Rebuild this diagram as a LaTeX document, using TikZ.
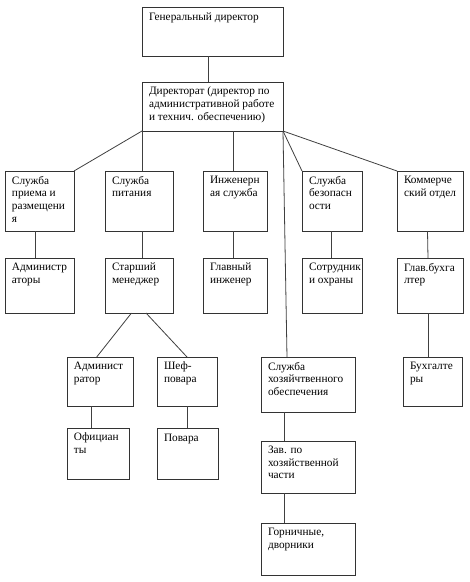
\documentclass[tikz,border=0pt]{standalone}
\usepackage{fontspec}
\setmainfont{Liberation Serif}
\tikzset{
  box/.style={draw=black!80, line width=0.8pt, anchor=north west, inner sep=0pt, outer sep=0pt},
  lbl/.style={anchor=north west, inner sep=0pt, outer sep=0pt, align=left,
    font=\fontsize{11.3}{12.65}\selectfont, execute at begin node=\strut},
  link/.style={draw=black!75, line width=0.8pt}
}
\newcommand\obox[6]{%
  \node[box, minimum width=#4pt, minimum height=#5pt] (#1) at (#2,#3) {};
  \node[lbl] (#1-t) at ([xshift=7pt,yshift=-5.1pt]#1.north west) {#6};}
\begin{document}
\begin{tikzpicture}[x=1pt,y=-1pt]
\useasboundingbox[fill=white] (0,0) rectangle (470,582);
\obox{gd}{142}{7}{141}{49}{Генеральный директор}
\obox{dir}{142}{82}{141}{49}{Директорат (директор по\\административной работе\\и технич. обеспечению)}
\obox{priem}{5}{171}{69}{60}{Служба\\приема и\\размещени\\я}
\obox{pit}{105}{171}{68}{60}{Служба\\питания}
\obox{ing}{203}{171}{64}{60}{Инженерн\\ая служба}
\obox{bez}{302}{171}{60}{60}{Служба\\безопасн\\ости}
\obox{kom}{397}{171}{66}{60}{Коммерче\\ский отдел}
\obox{adm}{5}{258}{69}{55}{Администр\\аторы}
\obox{star}{105}{258}{68}{55}{Старший\\менеджер}
\obox{glav}{203}{258}{64}{55}{Главный\\инженер}
\obox{sotr}{302}{258}{60}{55}{Сотрудник\\и охраны}
\obox{gbuh}{397}{258}{66}{55}{Глав.бухга\\лтер}
\obox{admr}{67}{357}{66}{49}{Админист\\ратор}
\obox{shef}{157}{357}{60}{49}{Шеф-\\повара}
\obox{hoz}{261}{357}{94}{55}{Служба\\хозяйчтвенного\\обеспечения}
\obox{buh}{403}{357}{59}{49}{Бухгалте\\ры}
\obox{ofic}{67}{428}{62}{51}{Официан\\ты}
\obox{povar}{157}{428}{61}{51}{Повара}
\obox{zav}{261}{441}{94}{52}{Зав. по\\хозяйственной\\части}
\obox{gorn}{261}{523}{94}{52}{Горничные,\\дворники}
% connectors
\draw[link] ([xshift=-4pt]gd.south) -- ([xshift=-4pt]dir.north);
\draw[link] (dir.south west) -- (priem.north east);
\draw[link] (dir.south west) -- (dir.south west |- pit.north);
\draw[link] ([xshift=-1.5pt]ing.north |- dir.south) -- ([xshift=-1.5pt]ing.north);
\draw[link] (dir.south east) -- (bez.north west);
\draw[link] (dir.south east) -- (kom.north west);
\draw[link] (dir.south east) -- ([xshift=26pt]hoz.north west);
\draw[link] ([xshift=-4pt]priem.south) -- ([xshift=-4pt]adm.north);
\draw[link] ([xshift=3pt]pit.south) -- ([xshift=3pt]star.north);
\draw[link] ([xshift=-1.5pt]ing.south) -- ([xshift=-1.5pt]glav.north);
\draw[link] ([xshift=-1pt]bez.south) -- ([xshift=-1pt]sotr.north);
\draw[link] ([xshift=-2.5pt]kom.south) -- ([xshift=-2pt]gbuh.north);
\draw[link] ([xshift=-7.5pt]star.south) -- ([xshift=-3.3pt]admr.north);
\draw[link] ([xshift=7pt]star.south) -- (shef.north);
\draw[link] ([xshift=-2pt]gbuh.south) -- ([xshift=-4.5pt]buh.north);
\draw[link] ([xshift=-9pt]admr.south) -- ([xshift=-9pt]admr.south |- ofic.north);
\draw[link] (shef.south) -- (shef.south |- povar.north);
\draw[link] ([xshift=23pt]hoz.south west) -- ([xshift=23pt]zav.north west);
\draw[link] ([xshift=23pt]zav.south west) -- ([xshift=23pt]gorn.north west);
\end{tikzpicture}
\end{document}
